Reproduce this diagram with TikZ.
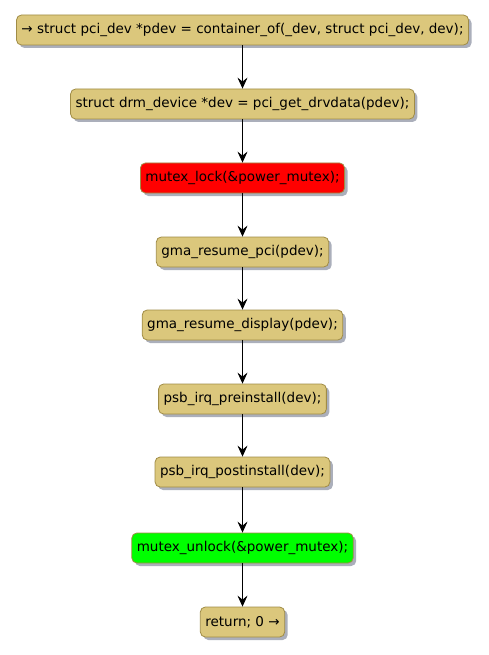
\documentclass[tikz,border=0pt]{standalone}
\usepackage{fontspec}
\setmainfont{DejaVu Sans}
\usetikzlibrary{arrows.meta,shadows}
\definecolor{actfill}{RGB}{219,199,124}
\definecolor{actborder}{RGB}{160,140,70}
\definecolor{shadowcol}{RGB}{150,155,170}
\tikzset{
  act/.style={draw=actborder, fill=actfill, line width=0.8pt, rounded corners=5pt,
    minimum height=30pt, inner xsep=5pt, inner ysep=0pt, font=\fontsize{13.5pt}{16pt}\selectfont,
    anchor=center, drop shadow={shadow xshift=3pt, shadow yshift=-3pt, fill=shadowcol, opacity=0.8}},
  flow/.style={-{Stealth[length=11pt,width=10pt,inset=4pt]}, line width=0.8pt}
}
\begin{document}
\begin{tikzpicture}[x=1pt,y=-1pt]
\useasboundingbox (0,0) rectangle (488,655);
\node[act] (n1) at (242.5,30) {→ struct pci\_dev *pdev = container\_of(\_dev, struct pci\_dev, dev);};
\node[act] (n2) at (242.5,104) {struct drm\_device *dev = pci\_get\_drvdata(pdev);};
\node[act, fill=red] (n3) at (242.5,178) {mutex\_lock(\&power\_mutex);};
\node[act] (n4) at (242.5,252) {gma\_resume\_pci(pdev);};
\node[act] (n5) at (242.5,325) {gma\_resume\_display(pdev);};
\node[act] (n6) at (242.5,399) {psb\_irq\_preinstall(dev);};
\node[act] (n7) at (242.5,472) {psb\_irq\_postinstall(dev);};
\node[act, fill=green] (n8) at (242.5,548) {mutex\_unlock(\&power\_mutex);};
\node[act] (n9) at (242.5,622) {return; 0 →};
\foreach \a/\b in {n1/n2,n2/n3,n3/n4,n4/n5,n5/n6,n6/n7,n7/n8,n8/n9}
  \draw[flow] (\a) -- (\b);
\end{tikzpicture}
\end{document}
